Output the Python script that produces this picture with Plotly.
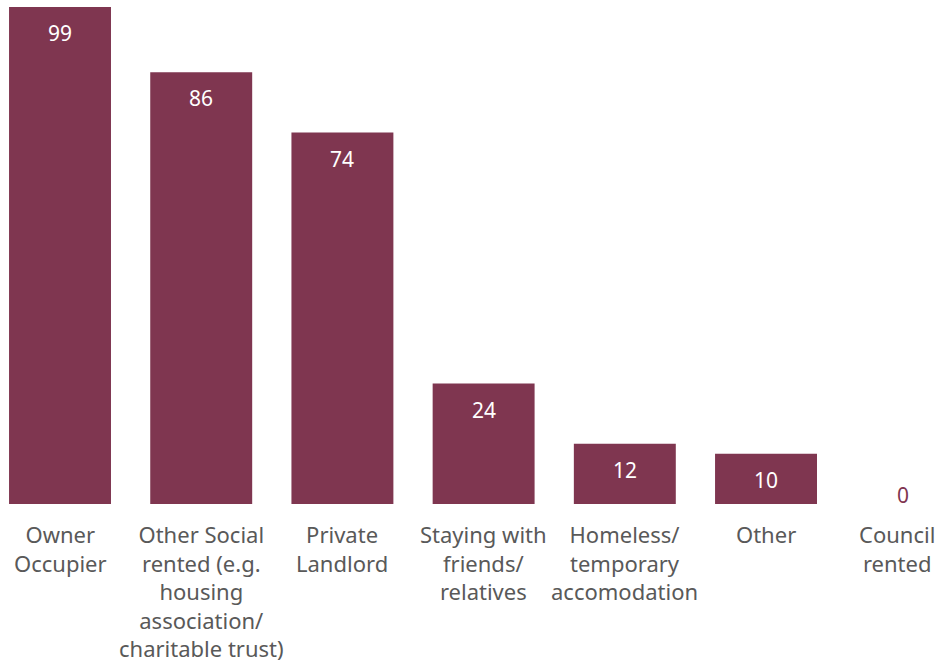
import plotly.graph_objects as go

categories = [
    "Owner<br>Occupier",
    "Other Social<br>rented (e.g.<br>housing<br>association/<br>charitable trust)",
    "Private<br>Landlord",
    "Staying with<br>friends/<br>relatives",
    "Homeless/<br>temporary<br>accomodation",
    "Other",
    "Council<br>rented",
]
values = [99, 86, 74, 24, 12, 10, 0]

BAR = "#7F3650"
GREY = "#595959"
FONT = "Noto Sans"

x = list(range(len(values)))
last = len(values) - 1

fig = go.Figure(go.Bar(
    x=x, y=values, width=0.722, marker=dict(color=BAR, line=dict(width=0)),
    hoverinfo="skip",
))

annotations = []
for i, v in enumerate(values):
    # edge category is nudged inward so its label stays on the page
    nudge = -10 if i == last else 0
    if v > 0:
        annotations.append(dict(x=i, y=v, xref="x", yref="y", text=str(v),
                                showarrow=False, yanchor="middle", yshift=-26,
                                font=dict(family=FONT, size=21, color="white")))
    else:
        annotations.append(dict(x=i, y=v, xref="x", yref="y", text=str(v),
                                showarrow=False, yanchor="middle", yshift=9,
                                xshift=nudge + 6,
                                font=dict(family=FONT, size=21, color=BAR)))
    annotations.append(dict(x=i, y=0, xref="x", yref="paper", text=categories[i],
                            showarrow=False, yanchor="top", yshift=-13,
                            xshift=nudge,
                            font=dict(family=FONT, size=22, color=GREY)))

fig.update_layout(
    width=939, height=664,
    margin=dict(l=0, r=0, t=0, b=160),
    plot_bgcolor="white", paper_bgcolor="white",
    showlegend=False,
    xaxis=dict(range=[-0.425, 6.225], showticklabels=False, showgrid=False,
               zeroline=False, showline=False, ticks=""),
    yaxis=dict(range=[0, 100.4], visible=False, showgrid=False, zeroline=False),
    annotations=annotations,
)

fig.write_html("out.html")
